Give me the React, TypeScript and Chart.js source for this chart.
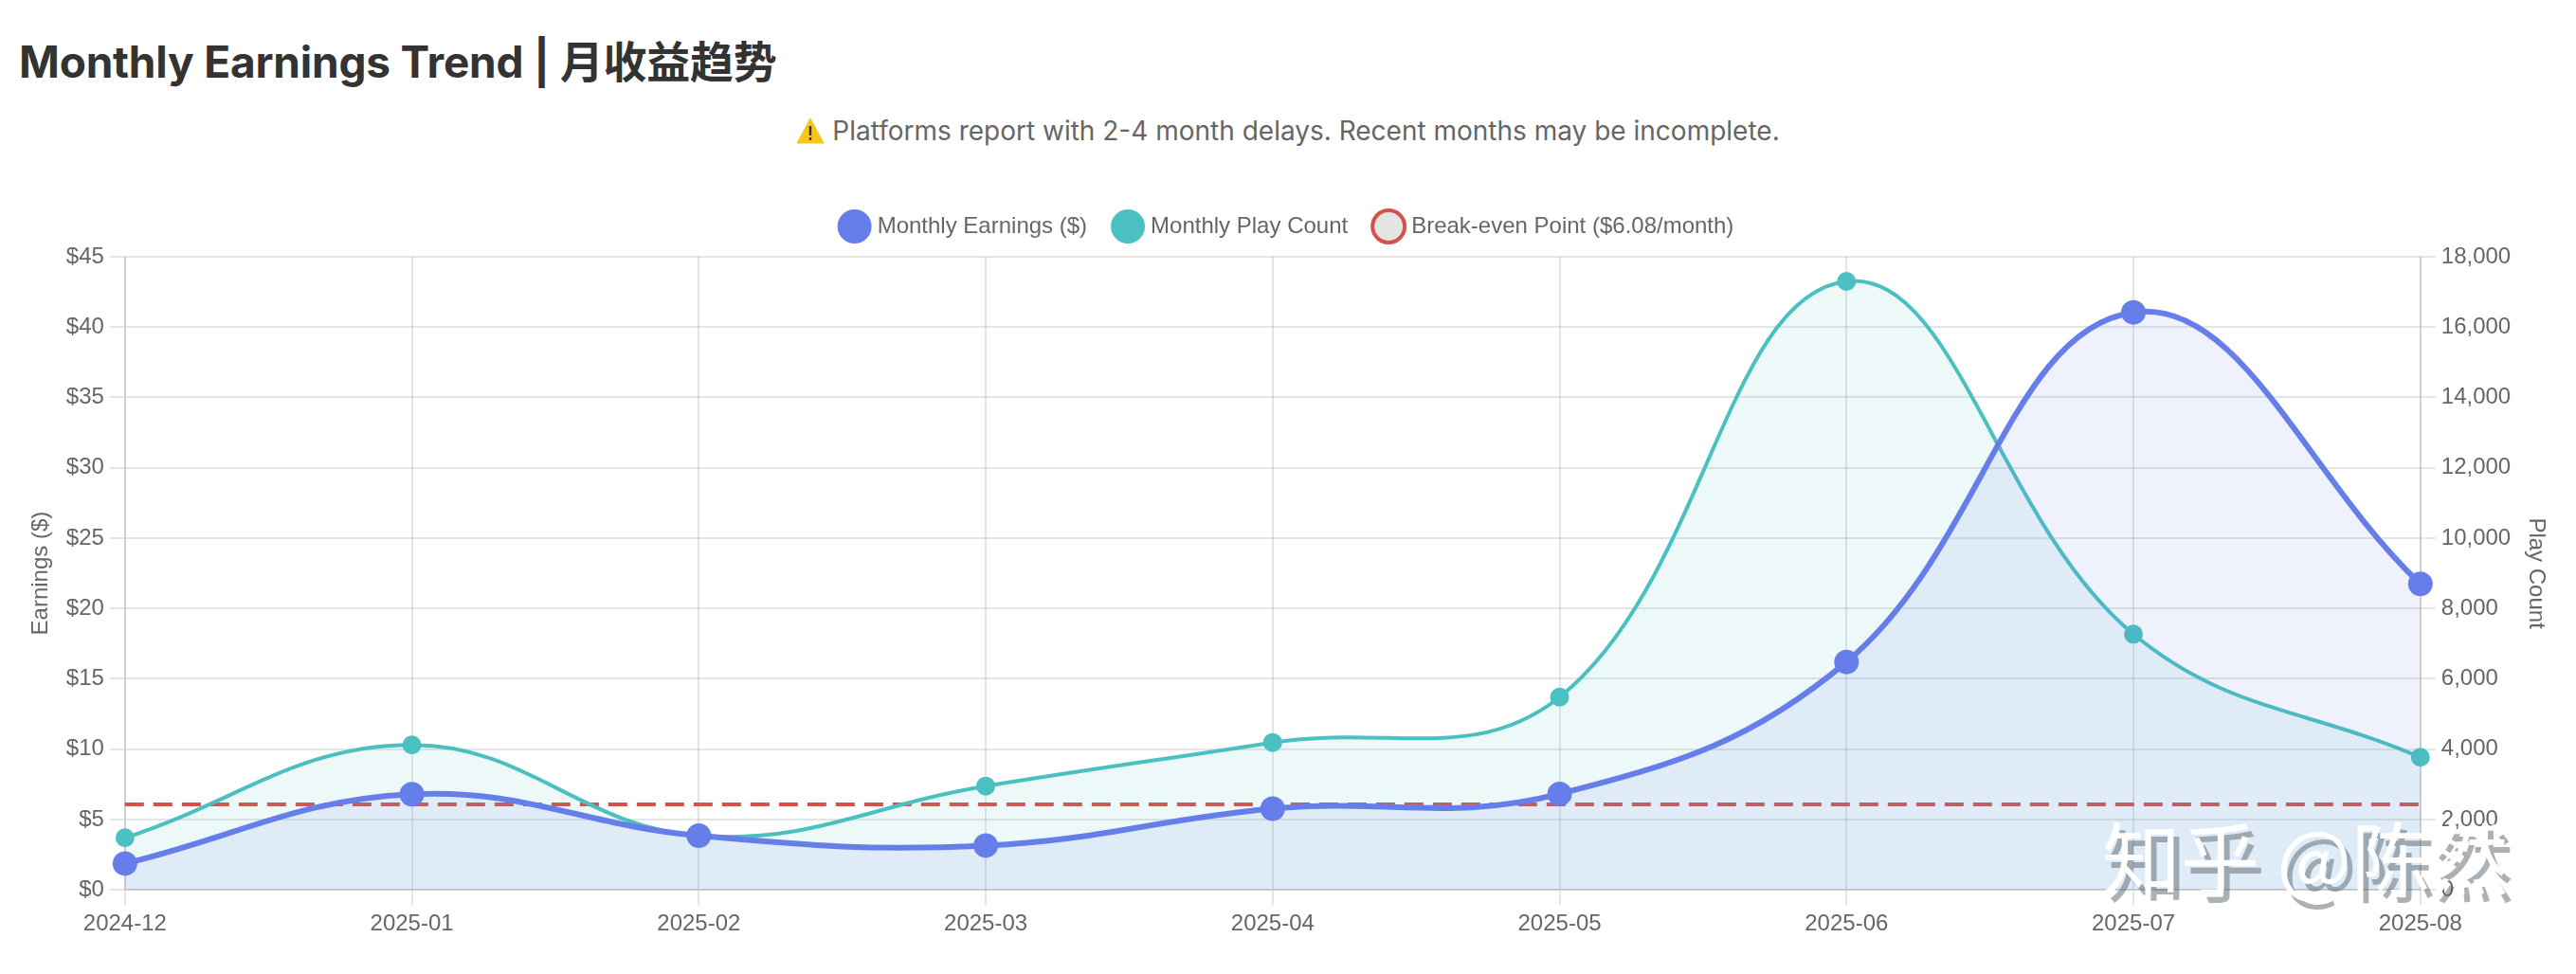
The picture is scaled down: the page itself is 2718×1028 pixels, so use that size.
import { useEffect, useRef } from 'react'
import { Chart, registerables } from 'chart.js'

Chart.register(...registerables)

const months = ['2024-12', '2025-01', '2025-02', '2025-03', '2025-04', '2025-05', '2025-06', '2025-07', '2025-08']
const earnings = [1.87, 6.8, 3.85, 3.15, 5.77, 6.82, 16.2, 41.05, 21.75]
const playCounts = [1480, 4120, 1540, 2950, 4190, 5480, 17300, 7270, 3770]
const breakEven = [6.08, 6.08, 6.08, 6.08, 6.08, 6.08, 6.08, 6.08, 6.08]

const sansFont = 'Inter, "Noto Sans CJK SC", sans-serif'
const tickFont = { family: '"Liberation Sans", Arial, sans-serif', size: 24 }

// a bit more room under the legend
const legendGap = {
  id: 'legendGap',
  beforeInit(chart: any) {
    const fit = chart.legend.fit
    chart.legend.fit = function () {
      fit.call(this)
      this.height += 10
    }
  },
}

export default function App() {
  const chartRef = useRef<HTMLCanvasElement>(null)

  useEffect(() => {
    const ctx = chartRef.current?.getContext('2d')
    if (!ctx) return

    Chart.defaults.color = '#666'

    const chart = new Chart(ctx, {
      type: 'line',
      plugins: [legendGap],
      data: {
        labels: months,
        datasets: [
          {
            label: 'Monthly Earnings ($)',
            data: earnings,
            borderColor: '#667eea',
            backgroundColor: 'rgba(102, 126, 234, 0.1)',
            borderWidth: 6,
            fill: true,
            tension: 0.4,
            pointRadius: 12,
            pointBorderWidth: 2,
            pointBackgroundColor: '#667eea',
            yAxisID: 'y',
          },
          {
            label: 'Monthly Play Count',
            data: playCounts,
            borderColor: '#4bc0c0',
            backgroundColor: 'rgba(75, 192, 192, 0.1)',
            borderWidth: 4,
            fill: true,
            tension: 0.4,
            pointRadius: 9,
            pointBorderWidth: 2,
            pointBackgroundColor: '#4bc0c0',
            yAxisID: 'y1',
          },
          {
            label: 'Break-even Point ($6.08/month)',
            data: breakEven,
            borderColor: '#d4524a',
            borderWidth: 4,
            borderDash: [20, 10],
            pointRadius: 0,
            fill: false,
            yAxisID: 'y',
          },
        ],
      },
      options: {
        responsive: false,
        devicePixelRatio: 1,
        animation: false,
        layout: { padding: { left: 23, right: 22 } },
        plugins: {
          legend: {
            position: 'top',
            labels: { usePointStyle: true, font: tickFont, padding: 31, color: '#666' },
          },
        },
        scales: {
          x: {
            grid: { color: 'rgba(0,0,0,0.1)', lineWidth: 2, tickLength: 16 },
            border: { width: 2, color: 'rgba(0,0,0,0.1)' },
            ticks: { font: tickFont, color: '#666', padding: 6, maxRotation: 0, autoSkip: false },
          },
          y: {
            position: 'left',
            min: 0,
            max: 45,
            title: { display: true, text: 'Earnings ($)', font: tickFont, color: '#666', padding: 6 },
            grid: { color: 'rgba(0,0,0,0.1)', lineWidth: 2, tickLength: 16 },
            border: { width: 2, color: 'rgba(0,0,0,0.1)' },
            ticks: {
              font: tickFont,
              color: '#666',
              padding: 6,
              stepSize: 5,
              callback: (v) => '$' + v,
            },
          },
          y1: {
            position: 'right',
            min: 0,
            max: 18000,
            title: { display: true, text: 'Play Count', font: tickFont, color: '#666', padding: 6 },
            grid: { drawOnChartArea: false, color: 'rgba(0,0,0,0.1)', lineWidth: 2, tickLength: 16 },
            border: { width: 2, color: 'rgba(0,0,0,0.1)' },
            ticks: {
              font: tickFont,
              color: '#666',
              padding: 6,
              stepSize: 2000,
              callback: (v) => Number(v).toLocaleString('en-US'),
            },
          },
        },
      },
    })

    return () => chart.destroy()
  }, [])

  return (
    <div style={{ position: 'absolute', left: 0, top: 0, width: 2718, height: 1028, background: '#fff', overflow: 'hidden' }}>
      <div style={{ position: 'absolute', left: 20, top: 32, fontFamily: sansFont, fontWeight: 700, fontSize: 46, letterSpacing: -0.2, lineHeight: '66px', color: '#333', whiteSpace: 'nowrap' }}>
        Monthly Earnings Trend | 月收益趋势
      </div>
      <div style={{ position: 'absolute', left: 0, width: 2718, top: 118, textAlign: 'center', fontFamily: sansFont, fontSize: 28, lineHeight: '40px', color: '#666', whiteSpace: 'nowrap' }}>
        <svg width="30" height="28" viewBox="0 0 30 28" style={{ verticalAlign: -4, marginRight: 8 }}>
          <path d="M15 1 L29 27 L1 27 Z" fill="#f7c51e" stroke="#f7c51e" strokeLinejoin="round" />
          <rect x="13.8" y="9" width="2.4" height="10" fill="#333" />
          <rect x="13.8" y="21" width="2.4" height="3" fill="#333" />
        </svg>
        Platforms report with 2-4 month delays. Recent months may be incomplete.
      </div>
      <canvas ref={chartRef} width={2718} height={800} style={{ position: 'absolute', left: 0, top: 196, display: 'block' }} />
      <div style={{ position: 'absolute', left: 2218, top: 852, fontFamily: '"Noto Sans CJK SC", sans-serif', fontSize: 83, lineHeight: '100px', fontWeight: 400, color: '#fff', textShadow: '6px 8px 0 rgba(90, 100, 110, 0.5)', whiteSpace: 'pre' }}>
        知乎 @陈然
      </div>
    </div>
  )
}
